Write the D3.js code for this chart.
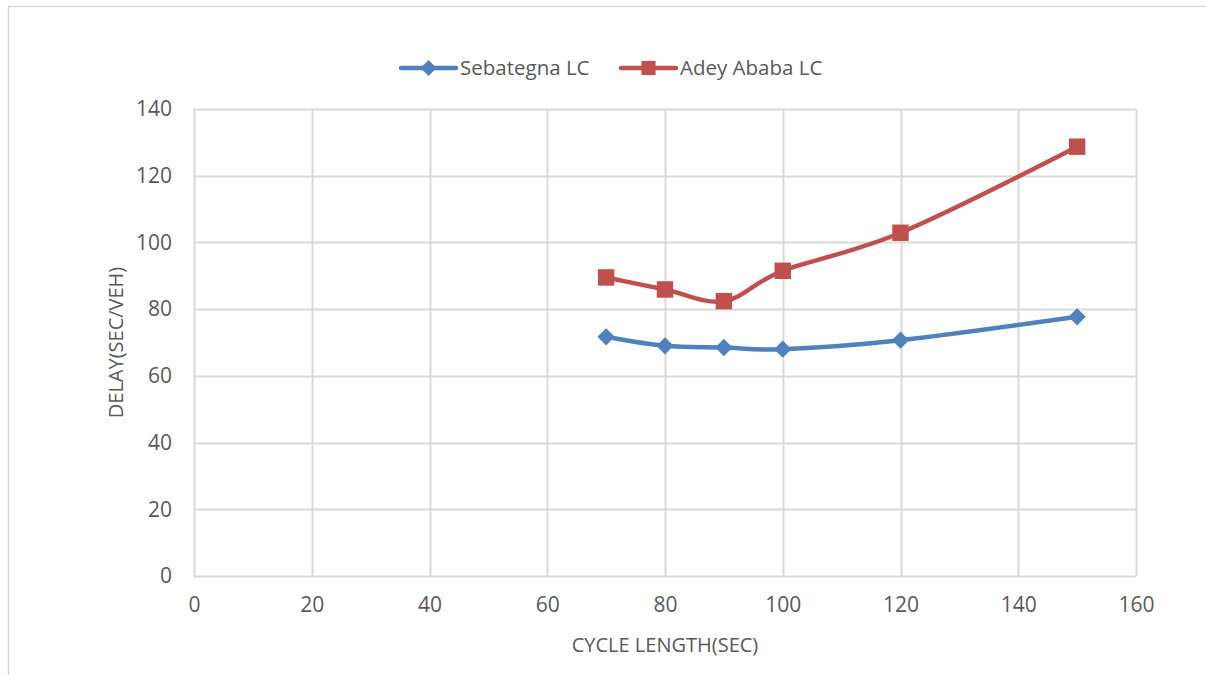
<!DOCTYPE html>
<html>
<head>
<meta charset="utf-8">
<script src="https://cdn.jsdelivr.net/npm/d3@7"></script>
<style>
  html, body { margin: 0; padding: 0; background: #fff; }
  svg { display: block; font-family: "Open Sans", "Liberation Sans", sans-serif; }
</style>
</head>
<body>
<svg id="chart" width="1206" height="675"></svg>
<script>
// Cycle length (sec) vs. average delay (sec/veh)
const cycleLengths = [70, 80, 90, 100, 120, 150];
const sebategnaDelay = [71.7, 69.0, 68.5, 68.0, 70.7, 77.7];
const adeyAbabaDelay = [89.5, 85.9, 82.4, 91.5, 102.9, 128.7];
const seriesNames = ["Sebategna LC", "Adey Ababa LC"];
const xTicks = [0, 20, 40, 60, 80, 100, 120, 140, 160];
const yTicks = [0, 20, 40, 60, 80, 100, 120, 140];

const svg = d3.select("#chart");
const plot = { left: 194, right: 1136, top: 109, bottom: 576 };

const x = d3.scaleLinear().domain([0, 160]).range([plot.left, plot.right]);
const y = d3.scaleLinear().domain([0, 140]).range([plot.bottom, plot.top]);

const gridColor = "#d9d9d9";
const textColor = "#595959";

// chart frame (top and left edges)
svg.append("line").attr("x1", 8).attr("x2", 1206).attr("y1", 6.5).attr("y2", 6.5)
  .attr("stroke", gridColor).attr("stroke-width", 1.5);
svg.append("line").attr("x1", 8.5).attr("x2", 8.5).attr("y1", 6).attr("y2", 675)
  .attr("stroke", gridColor).attr("stroke-width", 1.5);

// gridlines
const grid = svg.append("g");
grid.selectAll("line.h").data(yTicks).join("line")
  .attr("x1", plot.left).attr("x2", plot.right)
  .attr("y1", d => Math.round(y(d)) + 0.5).attr("y2", d => Math.round(y(d)) + 0.5)
  .attr("stroke", gridColor).attr("stroke-width", 2);
grid.selectAll("line.v").data(xTicks).join("line")
  .attr("y1", plot.top).attr("y2", plot.bottom)
  .attr("x1", d => Math.round(x(d)) + 0.5).attr("x2", d => Math.round(x(d)) + 0.5)
  .attr("stroke", gridColor).attr("stroke-width", 2);

// axes (labels only; lines drawn by the grid)
const xAxis = svg.append("g").attr("transform", `translate(0,${plot.bottom})`)
  .call(d3.axisBottom(x).tickValues(xTicks).tickSize(0).tickPadding(21));
const yAxis = svg.append("g").attr("transform", `translate(${plot.left},0)`)
  .call(d3.axisLeft(y).tickValues(yTicks).tickSize(0).tickPadding(22));
[xAxis, yAxis].forEach(a => {
  a.select(".domain").remove();
  a.selectAll("text").attr("fill", textColor).style("font-size", "21px")
    .style("font-family", "'Open Sans', sans-serif");
});

// axis titles
svg.append("text").attr("x", (plot.left + plot.right) / 2).attr("y", 652)
  .attr("text-anchor", "middle").attr("fill", textColor).style("font-size", "20px")
  .text("CYCLE LENGTH(SEC)");
svg.append("text")
  .attr("transform", `translate(123,${(plot.top + plot.bottom) / 2}) rotate(-90)`)
  .attr("text-anchor", "middle").attr("fill", textColor).style("font-size", "20px")
  .text("DELAY(SEC/VEH)");

// diamond = square turned 45 degrees
const diamond = {
  draw(ctx, size) {
    const r = Math.sqrt(size / 2);
    ctx.moveTo(0, -r); ctx.lineTo(r, 0); ctx.lineTo(0, r); ctx.lineTo(-r, 0); ctx.closePath();
  }
};

const series = [
  { name: seriesNames[0], values: sebategnaDelay, color: "#4f81bd", marker: diamond, size: 150, legendSize: 130 },
  { name: seriesNames[1], values: adeyAbabaDelay, color: "#c0504d", marker: d3.symbolSquare, size: 270, legendSize: 200 }
];

const line = d3.line()
  .x(d => x(d[0])).y(d => y(d[1]))
  .curve(d3.curveCatmullRom.alpha(0));

series.forEach(s => {
  const pts = cycleLengths.map((c, i) => [c, s.values[i]]);
  svg.append("path").datum(pts).attr("d", line)
    .attr("fill", "none").attr("stroke", s.color).attr("stroke-width", 4.5)
    .attr("stroke-linejoin", "round").attr("stroke-linecap", "round");
  svg.append("g").selectAll("path").data(pts).join("path")
    .attr("transform", d => `translate(${x(d[0])},${y(d[1])})`)
    .attr("d", d3.symbol().type(s.marker).size(s.size))
    .attr("fill", s.color);
});

// legend
const legendItems = [
  { s: series[0], x0: 401, tx: 460 },
  { s: series[1], x0: 621, tx: 680 }
];
const ly = 68;
legendItems.forEach(it => {
  svg.append("line").attr("x1", it.x0).attr("x2", it.x0 + 55).attr("y1", ly).attr("y2", ly)
    .attr("stroke", it.s.color).attr("stroke-width", 4.5).attr("stroke-linecap", "round");
  svg.append("path").attr("transform", `translate(${it.x0 + 27.5},${ly})`)
    .attr("d", d3.symbol().type(it.s.marker).size(it.s.legendSize))
    .attr("fill", it.s.color);
  svg.append("text").attr("x", it.tx).attr("y", ly).attr("dy", "0.35em")
    .attr("fill", textColor).style("font-size", "20.5px").text(it.s.name);
});
</script>
</body>
</html>
